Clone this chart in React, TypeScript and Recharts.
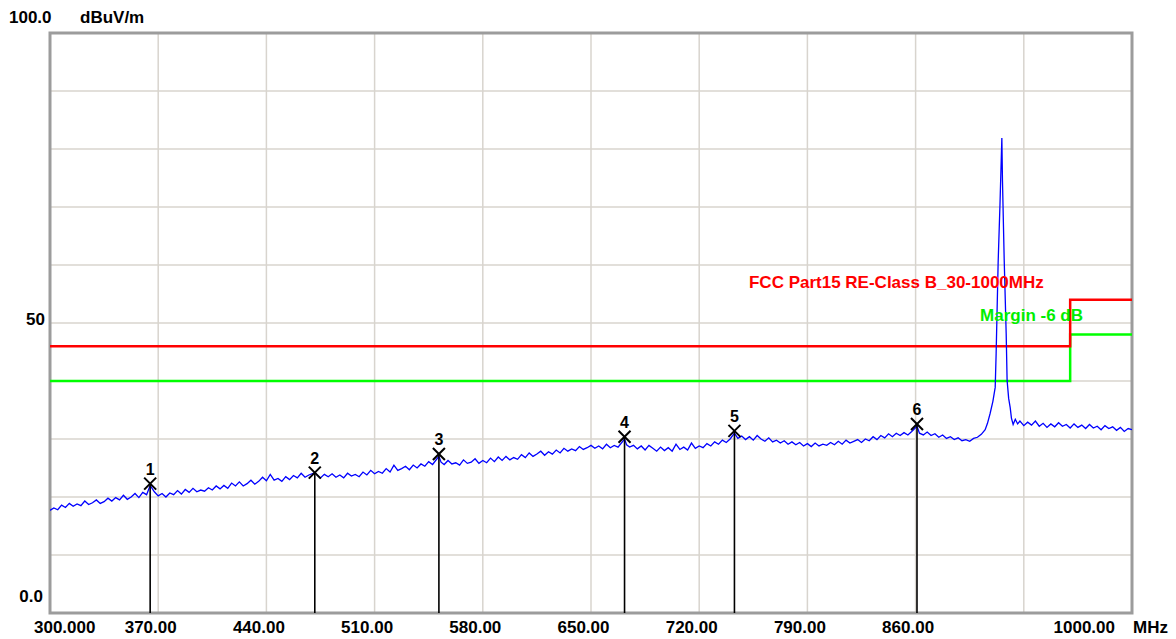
import {
  ComposedChart,
  Line,
  XAxis,
  YAxis,
  CartesianGrid,
  ReferenceLine,
  ReferenceDot,
  ReferenceArea,
} from "recharts";

// measured trace (MHz, dBuV/m)
const trace: [number, number][] = [
  [300, 17.7], [302.5, 18.1], [305, 17.8], [307.5, 18.6], [310, 18.2], [312.5, 18.9], [315, 18.4],
  [317.5, 18.8], [320, 18.5], [322.5, 19.3], [325, 18.7], [327.5, 19.0], [330, 19.5], [332.5, 18.9],
  [335, 19.2], [337.5, 19.8], [340, 19.3], [342.5, 19.9], [345, 19.5], [347.5, 20.3], [350, 19.6],
  [352.5, 20.0], [355, 20.6], [357.5, 19.9], [360, 20.8], [362.5, 20.4], [364.8, 22.0], [367.5, 20.9],
  [370, 20.2], [372.5, 20.6], [375, 20.0], [377.5, 20.7], [380, 20.4], [382.5, 21.1], [385, 20.5],
  [387.5, 21.3], [390, 20.8], [392.5, 21.5], [395, 20.9], [397.5, 21.2], [400, 21.0],
  [402.5, 21.6], [405, 21.2], [407.5, 21.9], [410, 21.4], [412.5, 22.0], [415, 21.5], [417.5, 22.4],
  [420, 21.9], [422.5, 22.6], [425, 21.9], [427.5, 22.3], [430, 22.9], [432.5, 22.2], [435, 22.7],
  [437.5, 23.4], [440, 22.8], [442.5, 23.9], [445, 22.9], [447.5, 23.2], [450, 22.7],
  [452.5, 23.5], [455, 23.0], [457.5, 23.7], [460, 23.3], [462.5, 24.1], [465, 23.4], [467.5, 23.8],
  [471.3, 24.2], [472.5, 23.9], [475, 23.3], [477.5, 23.9], [480, 23.5], [482.5, 24.0], [485, 23.4],
  [487.5, 23.8], [490, 23.3], [492.5, 24.1], [495, 23.6], [497.5, 23.9], [500, 23.5],
  [502.5, 24.3], [505, 23.8], [507.5, 24.6], [510, 24.0], [512.5, 24.4], [515, 24.1], [517.5, 24.9],
  [520, 24.3], [522.5, 25.5], [525, 24.6], [527.5, 24.9], [530, 25.3], [532.5, 24.7], [535, 25.5],
  [537.5, 25.0], [540, 25.7], [542.5, 25.3], [545, 26.1], [547.5, 25.6], [551.6, 27.0],
  [553, 26.0], [555, 25.6], [557.5, 26.3], [560, 25.7], [562.5, 25.9], [565, 25.5], [567.5, 26.4],
  [570, 25.8], [572.5, 26.0], [575, 26.6], [577.5, 25.8], [580, 26.3], [582.5, 25.9], [585, 26.7],
  [587.5, 26.1], [590, 26.9], [592.5, 26.3], [595, 27.0], [597.5, 26.4], [600, 26.8],
  [602.5, 26.5], [605, 27.3], [607.5, 26.8], [610, 27.6], [612.5, 27.0], [615, 27.4], [617.5, 27.9],
  [620, 27.2], [622.5, 27.8], [625, 27.4], [627.5, 28.1], [630, 27.6], [632.5, 28.4], [635, 27.9],
  [637.5, 28.3], [640, 28.0], [642.5, 28.7], [645, 28.2], [647.5, 28.5], [650, 28.9],
  [652.5, 28.4], [655, 28.8], [657.5, 28.3], [660, 29.1], [662.5, 28.5], [665, 28.9], [667.5, 28.6],
  [671.7, 30.0], [673, 29.0], [675, 28.6], [677.5, 28.9], [680, 28.3], [682.5, 28.8], [685, 28.1],
  [687.5, 28.9], [690, 28.4], [692.5, 27.9], [695, 28.6], [697.5, 28.0], [700, 28.5],
  [702.5, 27.9], [705, 29.1], [707.5, 28.2], [710, 28.6], [712.5, 28.1], [715, 29.3], [717.5, 28.4],
  [720, 28.8], [722.5, 28.5], [725, 29.2], [727.5, 28.8], [730, 29.5], [732.5, 29.1], [735, 29.8],
  [737.5, 29.4], [740, 30.0], [742.8, 31.0], [745, 30.1], [747.5, 30.5], [750, 29.9],
  [752.5, 30.4], [755, 29.8], [757.5, 30.6], [760, 30.0], [762.5, 29.6], [765, 30.2], [767.5, 29.5],
  [770, 29.8], [772.5, 29.3], [775, 29.7], [777.5, 29.1], [780, 29.5], [782.5, 29.0], [785, 29.4],
  [787.5, 28.8], [790, 29.2], [792.5, 28.7], [795, 29.3], [797.5, 28.8], [800, 29.1],
  [802.5, 28.9], [805, 29.4], [807.5, 29.0], [810, 29.6], [812.5, 29.1], [815, 29.8], [817.5, 29.3],
  [820, 29.6], [822.5, 29.9], [825, 29.4], [827.5, 30.0], [830, 29.7], [832.5, 30.4], [835, 29.9],
  [837.5, 30.6], [840, 30.2], [842.5, 30.9], [845, 30.4], [847.5, 31.0], [850, 30.6],
  [852.5, 31.1], [855, 30.7], [857.5, 31.3], [860.9, 32.2], [862.5, 31.0], [865, 30.7], [867.5, 31.2],
  [870, 30.6], [872.5, 30.9], [875, 30.3], [877.5, 30.7], [880, 30.1], [882.5, 30.4], [885, 29.9],
  [887.5, 30.2], [890, 29.7], [892.5, 29.9], [895, 29.6], [897.5, 30.1], [900, 30.3],
  [902.5, 30.8], [905, 31.6], [906.5, 32.7], [908.2, 34.4], [910, 36.5], [911.5, 38.9], [912.1, 44.7],
  [913.4, 60.4], [914.6, 70.5], [915.8, 81.9], [916.2, 74.6], [917.3, 61.1], [918.6, 48.2],
  [919.2, 40.1], [920.2, 37.0], [921.2, 35.4], [922, 33.6], [923.1, 32.5], [924.5, 33.4],
  [926, 32.6], [927.5, 33.1], [930, 32.3], [932.5, 32.9], [935, 32.4], [937.5, 33.1], [940, 32.2],
  [942.5, 32.7], [945, 32.0], [947.5, 32.6], [950, 32.1], [952.5, 32.8], [955, 32.2], [957.5, 32.5],
  [960, 31.9], [962.5, 32.6], [965, 32.0], [967.5, 32.4], [970, 31.8], [972.5, 32.5], [975, 31.9],
  [977.5, 32.2], [980, 31.6], [982.5, 32.3], [985, 31.8], [987.5, 32.1], [990, 31.5], [992.5, 32.0],
  [995, 31.3], [997.5, 31.8], [1000, 31.6],
];

const limitFreqs = [300, 960, 1000];
const limitLevels = [46, 54, 54];
const marginLevels = [40, 48, 48];

const markerFreqs = [364.8, 471.3, 551.6, 671.7, 742.8, 860.9];
const markerLevels = [22.3, 24.2, 27.4, 30.4, 31.4, 32.6];
const markerLabels = ["1", "2", "3", "4", "5", "6"];

const xTicks = [300, 370, 440, 510, 580, 650, 720, 790, 860, 930, 1000];
const xTickLabels = ["300.000", "370.00", "440.00", "510.00", "580.00", "650.00", "720.00", "790.00", "860.00", "", "1000.00"];
const yTicks = [0, 10, 20, 30, 40, 50, 60, 70, 80, 90, 100];

const limitTitle = "FCC Part15 RE-Class B_30-1000MHz";
const marginTitle = "Margin -6 dB";

const traceData = trace.map(([f, v]) => ({ f, v }));
const limitData = limitFreqs.map((f, i) => ({ f, v: limitLevels[i] }));
const marginData = limitFreqs.map((f, i) => ({ f, v: marginLevels[i] }));

const font = "'Liberation Sans', Arial, sans-serif";
const textStyle = { fontFamily: font, fontWeight: 700, fontSize: 17 };

function XTick(props: any) {
  const { x, y, index } = props;
  const label = xTickLabels[index];
  if (!label) return null;
  const base = y + 12;
  if (index === 0) {
    return (
      <text x={x - 16} y={base} textAnchor="start" fill="#000" style={textStyle}>
        {label}
      </text>
    );
  }
  if (index === xTickLabels.length - 1) {
    return (
      <g>
        <text x={x - 17} y={base} textAnchor="end" fill="#000" style={textStyle}>
          {label}
        </text>
        <text x={x + 1} y={base} textAnchor="start" fill="#000" style={textStyle}>
          MHz
        </text>
      </g>
    );
  }
  return (
    <text x={x - 7.5} y={base} textAnchor="middle" fill="#000" style={textStyle}>
      {label}
    </text>
  );
}

function YTick(props: any) {
  const { y, payload } = props;
  const v = payload.value;
  if (v === 0) {
    return (
      <text x={43} y={y - 11} textAnchor="end" fill="#000" style={textStyle}>
        0.0
      </text>
    );
  }
  if (v === 50) {
    return (
      <text x={45} y={y + 2} textAnchor="end" fill="#000" style={textStyle}>
        50
      </text>
    );
  }
  if (v === 100) {
    return (
      <g>
        <text x={9} y={y - 10} textAnchor="start" fill="#000" style={textStyle}>
          100.0
        </text>
        <text x={80} y={y - 10} textAnchor="start" fill="#000" style={textStyle}>
          dBuV/m
        </text>
      </g>
    );
  }
  return null;
}

function MarkerShape({ cx, cy, label }: { cx?: number; cy?: number; label: string }) {
  if (cx == null || cy == null) return null;
  return (
    <g>
      <line x1={cx - 6} y1={cy - 6} x2={cx + 6} y2={cy + 6} stroke="#000" strokeWidth={2} />
      <line x1={cx - 6} y1={cy + 6} x2={cx + 6} y2={cy - 6} stroke="#000" strokeWidth={2} />
      <text x={cx} y={cy - 9} textAnchor="middle" fill="#000" style={{ ...textStyle, fontSize: 16 }}>
        {label}
      </text>
    </g>
  );
}

function TitleLabel({ viewBox, text, color }: any) {
  return (
    <text x={viewBox.x} y={viewBox.y} textAnchor="start" fill={color} style={textStyle}>
      {text}
    </text>
  );
}

export default function App() {
  return (
    <div style={{ position: "absolute", left: 0, top: 0, width: 1176, height: 639, background: "#fff" }}>
      <ComposedChart width={1176} height={639} margin={{ top: 33, right: 44, bottom: 0, left: 0 }}>
        <CartesianGrid stroke="#d8d4ce" strokeWidth={1.5} />
        <XAxis
          dataKey="f"
          type="number"
          domain={[300, 1000]}
          ticks={xTicks}
          tick={<XTick />}
          tickLine={false}
          axisLine={false}
          height={26}
          allowDataOverflow
          interval={0}
        />
        <YAxis
          type="number"
          domain={[0, 100]}
          ticks={yTicks}
          tick={<YTick />}
          tickLine={false}
          axisLine={false}
          width={50}
          interval={0}
        />
        <Line
          data={marginData}
          dataKey="v"
          type="stepAfter"
          stroke="#00ff00"
          strokeWidth={2.5}
          dot={false}
          isAnimationActive={false}
        />
        <Line
          data={limitData}
          dataKey="v"
          type="stepAfter"
          stroke="#ff0000"
          strokeWidth={2.5}
          dot={false}
          isAnimationActive={false}
        />
        <Line
          data={traceData}
          dataKey="v"
          type="linear"
          stroke="#0000ff"
          strokeWidth={1.3}
          dot={false}
          isAnimationActive={false}
        />
        {markerFreqs.map((f, i) => (
          <ReferenceLine
            key={"drop" + i}
            segment={[
              { x: f, y: 0 },
              { x: f, y: markerLevels[i] },
            ]}
            stroke="#000"
            strokeWidth={1.6}
          />
        ))}
        {markerFreqs.map((f, i) => (
          <ReferenceDot
            key={"mk" + i}
            x={f}
            y={markerLevels[i]}
            r={6}
            shape={(p: any) => <MarkerShape cx={p.cx} cy={p.cy} label={markerLabels[i]} />}
          />
        ))}
        <ReferenceDot
          x={752.2}
          y={56.1}
          r={0}
          fill="none"
          stroke="none"
          label={(p: any) => <TitleLabel viewBox={p.viewBox} text={limitTitle} color="#ff0000" />}
        />
        <ReferenceDot
          x={901.7}
          y={50.3}
          r={0}
          fill="none"
          stroke="none"
          label={(p: any) => <TitleLabel viewBox={p.viewBox} text={marginTitle} color="#00ee00" />}
        />
        <ReferenceArea
          x1={300}
          x2={1000}
          y1={0}
          y2={100}
          fill="none"
          stroke="#9c9c9c"
          strokeWidth={3}
          ifOverflow="visible"
        />
      </ComposedChart>
    </div>
  );
}
